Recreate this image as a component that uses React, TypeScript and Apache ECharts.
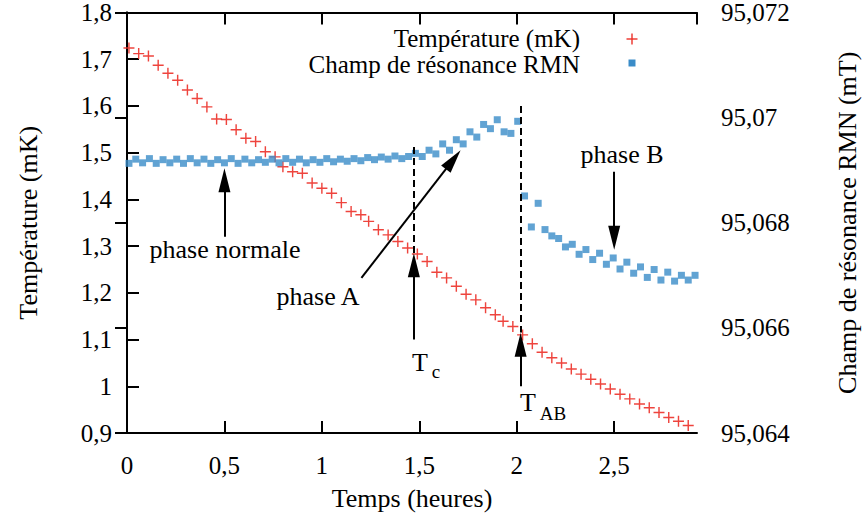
import React, { useEffect, useRef } from "react";
import * as echarts from "echarts";

// Temperature (mK) vs time (hours)
const tempTimes = [
  0.01, 0.06, 0.11, 0.16, 0.21, 0.26, 0.31, 0.36, 0.41, 0.46,
  0.51, 0.56, 0.61, 0.66, 0.71, 0.76, 0.8, 0.85, 0.9, 0.95,
  1.0, 1.05, 1.1, 1.15, 1.2, 1.24, 1.29, 1.34, 1.39, 1.44,
  1.49, 1.54, 1.59, 1.64, 1.69, 1.74, 1.79, 1.84, 1.89, 1.93,
  1.98, 2.03, 2.08, 2.13, 2.18, 2.23, 2.28, 2.33, 2.38, 2.43,
  2.48, 2.53, 2.58, 2.63, 2.68, 2.73, 2.78, 2.83, 2.88,
];
const tempValues = [
  1.724, 1.712, 1.707, 1.687, 1.67, 1.655, 1.634, 1.616, 1.598, 1.572,
  1.571, 1.549, 1.531, 1.524, 1.502, 1.491, 1.47, 1.459, 1.456, 1.435,
  1.424, 1.413, 1.393, 1.374, 1.367, 1.353, 1.335, 1.324, 1.31, 1.296,
  1.283, 1.267, 1.244, 1.232, 1.214, 1.197, 1.185, 1.168, 1.153, 1.139,
  1.128, 1.11, 1.091, 1.073, 1.061, 1.05, 1.037, 1.026, 1.015, 1.005,
  0.994, 0.983, 0.973, 0.962, 0.954, 0.944, 0.933, 0.925, 0.916,
];

// NMR resonance field (mT) vs time (hours)
const fieldTimes = [
  0.01, 0.045, 0.08, 0.115, 0.15, 0.185, 0.22, 0.255, 0.29, 0.325,
  0.36, 0.395, 0.43, 0.465, 0.5, 0.535, 0.57, 0.605, 0.64, 0.675,
  0.71, 0.745, 0.78, 0.815, 0.85, 0.885, 0.92, 0.955, 0.99, 1.025,
  1.06, 1.095, 1.13, 1.165, 1.2, 1.235, 1.27, 1.305, 1.34, 1.375,
  1.41, 1.445, 1.48, 1.515, 1.55, 1.585, 1.62, 1.655, 1.69, 1.725,
  1.76, 1.795, 1.83, 1.865, 1.9, 1.935, 1.97, 2.005, 2.04, 2.075,
  2.11, 2.145, 2.18, 2.215, 2.25, 2.285, 2.32, 2.355, 2.39, 2.425,
  2.46, 2.495, 2.53, 2.565, 2.6, 2.635, 2.67, 2.705, 2.74, 2.775,
  2.81, 2.845, 2.88, 2.915,
];
const fieldValues = [
  95.06913, 95.06921, 95.06914, 95.06922, 95.06913, 95.0692, 95.06914, 95.06921, 95.06913, 95.06922,
  95.06914, 95.06921, 95.06913, 95.0692, 95.06914, 95.06922, 95.06913, 95.06921, 95.06914, 95.0692,
  95.06915, 95.06921, 95.06914, 95.06922, 95.06915, 95.06921, 95.06914, 95.0692, 95.06915, 95.06922,
  95.06916, 95.06921, 95.06917, 95.06922, 95.06918, 95.06924, 95.0692, 95.06925, 95.06921, 95.06927,
  95.06922, 95.06926, 95.06932, 95.06926, 95.06938, 95.06931, 95.0695, 95.06938, 95.06958, 95.0695,
  95.06973, 95.06963, 95.06987, 95.06979, 95.06996, 95.06973, 95.0697, 95.06993, 95.06851, 95.06792,
  95.06837, 95.06787, 95.06775, 95.0677, 95.06754, 95.06759, 95.0674, 95.06749, 95.0673, 95.06742,
  95.06721, 95.06733, 95.06712, 95.06725, 95.06704, 95.06716, 95.06696, 95.06711, 95.06691, 95.06706,
  95.06689, 95.067, 95.06691, 95.067,
];

const seriesNames = ["Température (mK)", "Champ de résonance RMN"];
const axisTitles = ["Temps (heures)", "Température (mK)", "Champ de résonance RMN (mT)"];

const FONT = "'Liberation Serif', 'Times New Roman', serif";
const PLUS = "path://M4.35,0H5.65V4.35H10V5.65H5.65V10H4.35V5.65H0V4.35H4.35Z";
const RED = "#ec3028";
const BLUE = "#3a8cc8";

const fmt = (d: number) => (v: number) => String(+Number(v).toFixed(d)).replace(".", ",");

export default function App() {
  const ref = useRef<HTMLDivElement>(null);
  useEffect(() => {
    if (!ref.current) return;
    const chart = echarts.init(ref.current, null, { renderer: "svg" });
    const axisLine = { show: true, lineStyle: { color: "#000", width: 2 } };
    const axisTick = { show: true, inside: true, length: 12, lineStyle: { color: "#000", width: 2 } };
    const labelBase = { color: "#000", fontFamily: FONT, fontSize: 25 };
    const nameStyle = { color: "#000", fontFamily: FONT, fontSize: 26 };
    const tri = { symbol: "triangle", symbolSize: [12, 24] };
    const dash = { lineStyle: { type: [7, 4], color: "#000", width: 2 } };

    chart.setOption({
      animation: false,
      backgroundColor: "#fff",
      grid: { left: 127, right: 166, top: 12, bottom: 84, containLabel: false },
      xAxis: [
        {
          type: "value", min: 0, max: 2.925, interval: 0.5, position: "bottom",
          axisLine, axisTick, splitLine: { show: false },
          axisLabel: { ...labelBase, margin: 20, formatter: fmt(1), showMaxLabel: false },
          name: axisTitles[0], nameLocation: "middle", nameGap: 52, nameTextStyle: nameStyle,
        },
        {
          type: "value", min: 0, max: 2.925, interval: 0.5, position: "top",
          axisLine, axisTick, splitLine: { show: false }, axisLabel: { show: false },
        },
      ],
      yAxis: [
        {
          type: "value", min: 0.9, max: 1.8, interval: 0.1, position: "left",
          axisLine, axisTick, splitLine: { show: false },
          axisLabel: { ...labelBase, margin: 15, formatter: fmt(1) },
          name: axisTitles[1], nameLocation: "middle", nameGap: 86, nameRotate: 90, nameTextStyle: nameStyle,
        },
        {
          type: "value", min: 95.064, max: 95.072, interval: 0.002, position: "right",
          axisLine, axisTick, splitLine: { show: false },
          axisLabel: { ...labelBase, margin: 24, formatter: fmt(3) },
          name: axisTitles[2], nameLocation: "middle", nameGap: 137, nameRotate: 90, nameTextStyle: nameStyle,
        },
      ],
      series: [
        {
          name: seriesNames[0], type: "scatter", xAxisIndex: 0, yAxisIndex: 0,
          symbol: PLUS, symbolSize: 11, itemStyle: { color: RED, opacity: 0.9 },
          data: tempTimes.map((t, i) => [t, tempValues[i]]),
          z: 2,
          markLine: {
            silent: true, animation: false, symbol: ["none", "none"],
            label: { show: false },
            lineStyle: { color: "#000", width: 2, type: "solid" },
            data: [
              [{ coord: [0.5, 1.32] }, { coord: [0.5, 1.441], ...tri }],
              [{ coord: [1.203, 1.232] }, { coord: [1.674, 1.485], ...tri }],
              [{ coord: [1.472, 1.1] }, { coord: [1.472, 1.259], ...tri }],
              [{ coord: [1.472, 1.512], ...dash }, { coord: [1.472, 1.285] }],
              [{ coord: [2.02, 1.0] }, { coord: [2.02, 1.089], ...tri }],
              [{ coord: [2.02, 1.6], ...dash }, { coord: [2.02, 1.115] }],
              [{ coord: [2.5, 1.459] }, { coord: [2.5, 1.318], ...tri }],
            ],
          },
        },
        {
          name: seriesNames[1], type: "scatter", xAxisIndex: 0, yAxisIndex: 1,
          symbol: "rect", symbolSize: 7, itemStyle: { color: BLUE },
          data: fieldTimes.map((t, i) => [t, fieldValues[i]]),
          z: 3,
        },
      ],
      graphic: [
        { type: "text", x: 580, y: 38.5, style: { text: seriesNames[0], textAlign: "right", textVerticalAlign: "middle", fill: "#000", font: `25px ${FONT}` } },
        { type: "text", x: 580, y: 64.5, style: { text: seriesNames[1], textAlign: "right", textVerticalAlign: "middle", fill: "#000", font: `25px ${FONT}` } },
        { type: "rect", shape: { x: 626.5, y: 38.3, width: 11, height: 1.4 }, style: { fill: RED } },
        { type: "rect", shape: { x: 631.3, y: 33.5, width: 1.4, height: 11 }, style: { fill: RED } },
        { type: "rect", shape: { x: 628.5, y: 59.5, width: 7, height: 7 }, style: { fill: BLUE } },
        { type: "text", x: 225, y: 249, style: { text: "phase normale", textAlign: "center", textVerticalAlign: "middle", fill: "#000", font: `26px ${FONT}` } },
        { type: "text", x: 318, y: 296, style: { text: "phase A", textAlign: "center", textVerticalAlign: "middle", fill: "#000", font: `26px ${FONT}` } },
        { type: "text", x: 622, y: 154, style: { text: "phase B", textAlign: "center", textVerticalAlign: "middle", fill: "#000", font: `26px ${FONT}` } },
        { type: "text", x: 420, y: 362, style: { text: "T", textAlign: "center", textVerticalAlign: "middle", fill: "#000", font: `26px ${FONT}` } },
        { type: "text", x: 436, y: 371, style: { text: "c", textAlign: "center", textVerticalAlign: "middle", fill: "#000", font: `19px ${FONT}` } },
        { type: "text", x: 528, y: 402, style: { text: "T", textAlign: "center", textVerticalAlign: "middle", fill: "#000", font: `26px ${FONT}` } },
        { type: "text", x: 553, y: 413, style: { text: "AB", textAlign: "center", textVerticalAlign: "middle", fill: "#000", font: `19px ${FONT}` } },
      ],
    });
    return () => chart.dispose();
  }, []);
  return <div ref={ref} style={{ position: "fixed", left: 0, top: 0, width: 868, height: 517 }} />;
}
